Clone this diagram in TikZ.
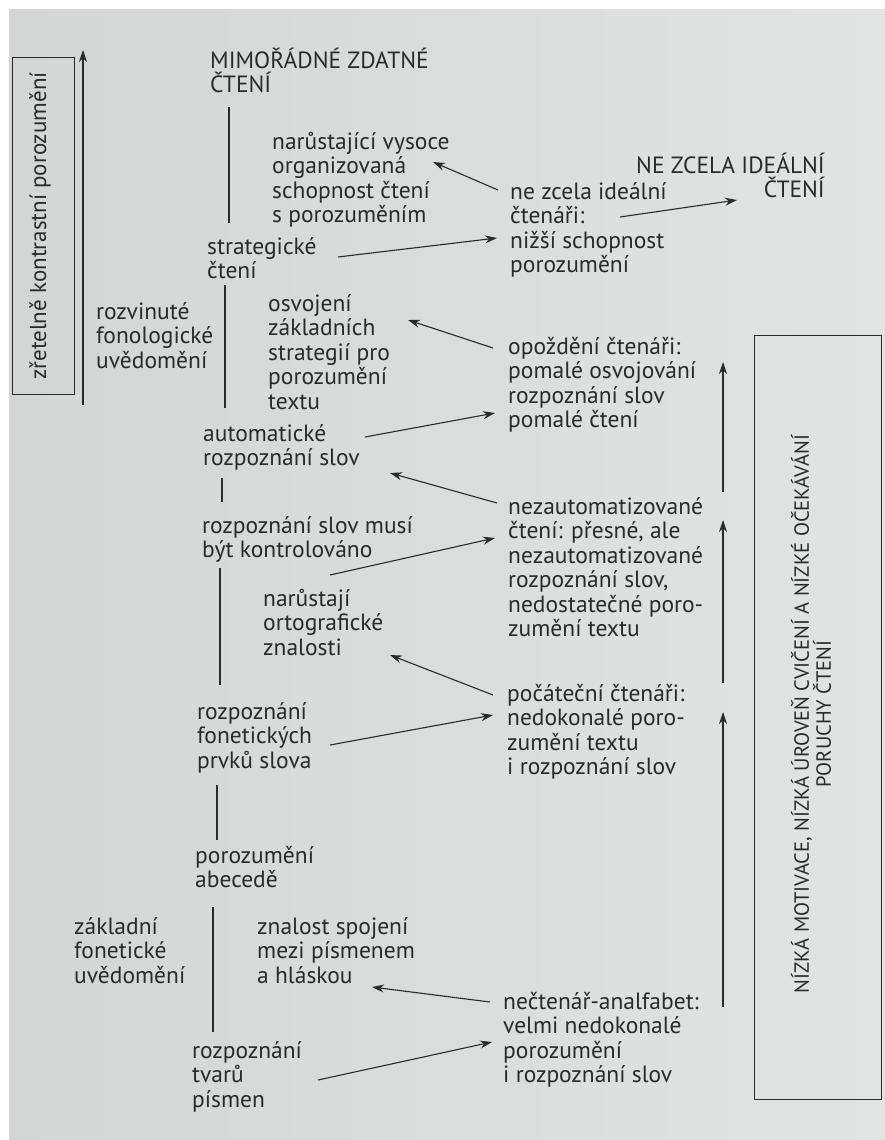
\documentclass[tikz,border=0pt]{standalone}
\usepackage{fontspec}
\setmainfont{PT Sans}
\usetikzlibrary{arrows.meta}
\definecolor{ink}{HTML}{2A2A2A}
\definecolor{pageL}{HTML}{D4D5D5}
\definecolor{pageR}{HTML}{E2E3E3}
\tikzset{
  txt/.style={anchor=base west, align=left, inner sep=0pt, text=ink,
    font=\fontsize{23.5}{24.5}\selectfont},
  nl/.style={yshift={-(#1-1)*24.5pt}},
  lnk/.style={draw=ink, line width=1.1pt},
  arr/.style={lnk, -{Stealth[length=12pt,width=8pt]}},
  stem/.style={draw=ink, line width=1.1pt},
  frame/.style={draw=ink, line width=1pt}
}
\begin{document}
\begin{tikzpicture}[x=1pt,y=-1pt]
\useasboundingbox (0,0) rectangle (885,1140);
\fill[white] (0,0) rectangle (885,1140);
\shade[left color=pageL, right color=pageR] (9,10) rectangle (885,1140);

% left box and arrow
\draw[frame] (12,58) rectangle (74,394);
\node[rotate=90, inner sep=0pt, text=ink, font=\fontsize{23}{24.5}\selectfont] (lboxtxt) at (40,226) {zřetelně kontrastní porozumění};
\coordinate (lbot) at (83,405);
\coordinate (ltop) at (83,50);
\draw[arr] (lbot) -- (ltop);

% right box
\draw[frame] (754,335) rectangle (881,1099);
\node[rotate=90, inner sep=0pt, align=center, text=ink, font=\fontsize{20.5}{22}\selectfont] (rboxtxt) at (811,714) {NÍZKÁ MOTIVACE, NÍZKÁ ÚROVEŇ CVIČENÍ A NÍZKÉ OČEKÁVÁNÍ\\PORUCHY ČTENÍ};

% stage nodes (middle column); coordinate = baseline of first line
\node[txt, nl=2] (mimo) at (210,68) {MIMOŘÁDNÉ ZDATNÉ\\ČTENÍ};
\node[txt, nl=4] (narur) at (272,149) {narůstající vysoce\\organizovaná\\schopnost čtení\\s porozuměním};
\node[txt, nl=2] (strat) at (207,254) {strategické\\čtení};
\node[txt, nl=3] (rozv) at (96,319) {rozvinuté\\fonologické\\uvědomění};
\node[txt, nl=5] (osv) at (268,311) {osvojení\\základních\\strategií pro\\porozumění\\textu};
\node[txt, nl=2] (auto) at (203,441) {automatické\\rozpoznání slov};
\node[txt, nl=2] (kontr) at (202,533) {rozpoznání slov musí\\být kontrolováno};
\node[txt, nl=3] (orto) at (263,606) {narůstají\\ortografické\\znalosti};
\node[txt, nl=3] (fonet) at (197,719) {rozpoznání\\fonetických\\prvků slova};
\node[txt, nl=2] (abec) at (195,863) {porozumění\\abecedě};
\node[txt, nl=3] (zakl) at (74,934) {základní\\fonetické\\uvědomění};
\node[txt, nl=3] (znal) at (257,934) {znalost spojení\\mezi písmenem\\a hláskou};
\node[txt, nl=3] (tvar) at (192,1058) {rozpoznání\\tvarů\\písmen};

% right column
\node[txt, nl=4] (nezc) at (510,199) {ne zcela ideální\\čtenáři:\\nižší schopnost\\porozumění};
\node[txt, nl=2, anchor=base east, align=right] (NEZC) at (825,173) {NE ZCELA IDEÁLNÍ\\ČTENÍ};
\node[txt, nl=4] (opoz) at (508,354) {opoždění čtenáři:\\pomalé osvojování\\rozpoznání slov\\pomalé čtení};
\node[txt, nl=6] (nezaut) at (508,514) {nezautomatizované\\čtení: přesné, ale\\nezautomatizované\\rozpoznání slov,\\nedostatečné poro-\\zumění textu};
\node[txt, nl=4] (pocat) at (507,701) {počáteční čtenáři:\\nedokonalé poro-\\zumění textu\\i rozpoznání slov};
\node[txt, nl=4] (nect) at (503,1009) {nečtenář-analfabet:\\velmi nedokonalé\\porozumění\\i rozpoznání slov};

% vertical stems between stages
\coordinate (s1a) at (229,107); \coordinate (s1b) at (229,223);
\coordinate (s2a) at (225,285); \coordinate (s2b) at (225,408);
\coordinate (s3a) at (222,478); \coordinate (s3b) at (222,502);
\coordinate (s4a) at (220,568); \coordinate (s4b) at (220,685);
\coordinate (s5a) at (217,785); \coordinate (s5b) at (217,840);
\coordinate (s6a) at (213,907); \coordinate (s6b) at (213,1032);
\draw[stem] (s1a) -- (s1b);
\draw[stem] (s2a) -- (s2b);
\draw[stem] (s3a) -- (s3b);
\draw[stem] (s4a) -- (s4b);
\draw[stem] (s5a) -- (s5b);
\draw[stem] (s6a) -- (s6b);

% connector end points
\coordinate (a1s) at (498,190);  \coordinate (a1e) at (433,162);
\coordinate (a2s) at (338,257);  \coordinate (a2e) at (497,238);
\coordinate (a3s) at (620,217);  \coordinate (a3e) at (737,200);
\coordinate (a4s) at (493,348);  \coordinate (a4e) at (408,320);
\coordinate (a5s) at (365,437);  \coordinate (a5e) at (495,413);
\coordinate (a6s) at (497,503);  \coordinate (a6e) at (390,473);
\coordinate (a7s) at (330,575);  \coordinate (a7e) at (495,538);
\coordinate (a8s) at (493,695);  \coordinate (a8e) at (390,655);
\coordinate (a9s) at (330,745);  \coordinate (a9e) at (493,715);
\coordinate (a10s) at (490,1002); \coordinate (a10e) at (372,987);
\coordinate (a11s) at (318,1080); \coordinate (a11e) at (492,1042);
\draw[arr] (a1s) -- (a1e);
\draw[arr] (a2s) -- (a2e);
\draw[arr] (a3s) -- (a3e);
\draw[arr] (a4s) -- (a4e);
\draw[arr] (a5s) -- (a5e);
\draw[arr] (a6s) -- (a6e);
\draw[arr] (a7s) -- (a7e);
\draw[arr] (a8s) -- (a8e);
\draw[arr] (a9s) -- (a9e);
\draw[arr] (a10s) -- (a10e);
\draw[arr] (a11s) -- (a11e);

% upward arrows beside right box
\coordinate (u1s) at (723,492);  \coordinate (u1e) at (723,362);
\coordinate (u2s) at (723,683);  \coordinate (u2e) at (723,520);
\coordinate (u3s) at (723,1007); \coordinate (u3e) at (723,712);
\draw[arr] (u1s) -- (u1e);
\draw[arr] (u2s) -- (u2e);
\draw[arr] (u3s) -- (u3e);
\end{tikzpicture}
\end{document}
